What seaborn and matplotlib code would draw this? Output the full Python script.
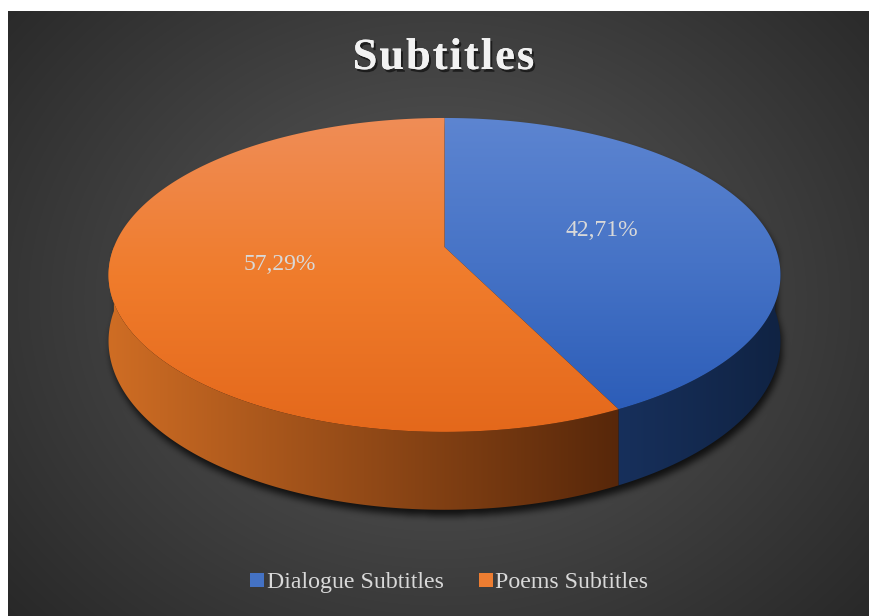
import numpy as np
import matplotlib
matplotlib.use("Agg")
import matplotlib.pyplot as plt
import seaborn as sns
from matplotlib.path import Path
from matplotlib.patches import Polygon, Rectangle
from matplotlib.lines import Line2D
import matplotlib.patheffects as pe

# ---- data ----
categories = ["Dialogue Subtitles", "Poems Subtitles"]
shares = [42.71, 57.29]
value_labels = ["42,71%", "57,29%"]
chart_title = "Subtitles"

# ---- styling ----
# lid shading stops (far edge -> near edge) for each slice
top_colors = [["#5D85D1", "#4673C6", "#2C5DB8"], ["#EF8D57", "#F07C2C", "#E4681B"]]
# wall shading (left -> right)
side_colors = [["#17305C", "#102343"], ["#CF6D24", "#57270A"]]
legend_colors = ["#4472C4", "#ED7D31"]

W, HP = 870, 616
sns.set_theme(style="white")
plt.rcParams["font.family"] = ["Liberation Serif", "DejaVu Serif"]

fig = plt.figure(figsize=(W / 100, HP / 100), dpi=100, facecolor="#2E2E2E")
ax = fig.add_axes([0, 0, 1, 1])
ax.set_xlim(0, W)
ax.set_ylim(HP, 0)
ax.axis("off")

# ---- radial backdrop ----
x0, y0 = 0, 0
yy, xx = np.mgrid[0:HP, 0:W] + 0.5
d = np.sqrt(((xx - 440) / 600) ** 2 + ((yy - 300) / 500) ** 2)
d = np.clip(d, 0, 1)
v = (92 - 54 * d) / 255.0
bg = np.dstack([v, v, v])
ax.imshow(bg, extent=[0, W, HP, 0], aspect="auto", zorder=0, interpolation="nearest")
# white page margin above and left of the dark panel
ax.add_patch(Rectangle((-5, -5), W + 10, 16, facecolor="white", edgecolor="none", zorder=10))
ax.add_patch(Rectangle((-5, -5), 13, HP + 10, facecolor="white", edgecolor="none", zorder=10))

# ---- perspective disc projection ----
CX, CY = 444.5, 247.0
A, B, K, DEPTH = 152.0, 330.6, 0.178, 64.0


def proj(theta_deg, depth=0.0, r=1.0):
    t = np.radians(theta_deg)
    x = r * np.cos(t)
    z = -r * np.sin(t)
    den = 1 - K * z
    return CX + B * x / den, CY + (A * z + DEPTH * depth) / den


def arc(t1, t2, depth=0.0, n=200):
    th = np.linspace(t1, t2, n)
    X, Y = proj(th, depth)
    return np.column_stack([X, Y])


def gradient_fill(pts, stops, horizontal=False, z=2):
    poly = Polygon(pts, closed=True, facecolor="none", edgecolor="none")
    ax.add_patch(poly)
    xmin, ymin = pts.min(axis=0) - 1
    xmax, ymax = pts.max(axis=0) + 1
    cols = np.array([matplotlib.colors.to_rgb(c) for c in stops])
    pos = np.linspace(0, 1, len(stops))
    s = np.linspace(0, 1, 256)
    g = np.column_stack([np.interp(s, pos, cols[:, k]) for k in range(3)])
    img = g[None, :, :] if horizontal else g[:, None, :]
    im = ax.imshow(img, extent=[xmin, xmax, ymax, ymin], aspect="auto",
                   zorder=z, interpolation="bilinear")
    im.set_clip_path(poly)


# slice angles: start at 12 o'clock, run clockwise
bounds = 90 - 360 * np.concatenate([[0], np.cumsum(shares)]) / np.sum(shares)

# ---- soft drop shadow under the disc ----
sil = np.vstack([arc(0, 180, 0), arc(180, 360, 1)])
mask = Path(sil + np.array([2, 6])).contains_points(
    np.column_stack([xx.ravel(), yy.ravel()])).reshape(HP, W).astype(float)


def box_blur(a, r):
    for axis in (0, 1):
        c = np.cumsum(np.pad(a, [(r + 1, r) if i == axis else (0, 0) for i in range(2)], mode="edge"), axis=axis)
        if axis == 0:
            a = (c[2 * r + 1:] - c[:-2 * r - 1]) / (2 * r + 1)
        else:
            a = (c[:, 2 * r + 1:] - c[:, :-2 * r - 1]) / (2 * r + 1)
    return a


for _ in range(3):
    mask = box_blur(mask, 3)
bg_shaded = bg * (1 - 0.75 * mask[..., None])
ax.imshow(bg_shaded, extent=[0, W, HP, 0], aspect="auto", zorder=1, interpolation="nearest")

# ---- side walls (front half only) ----
for i in range(len(shares)):
    hi, lo = bounds[i], bounds[i + 1]
    a1, a2 = max(lo, -180), min(hi, 0)
    if a1 >= a2:
        continue
    pts = np.vstack([arc(a1, a2, 0), arc(a2, a1, 1)])
    gradient_fill(pts, side_colors[i], horizontal=True, z=2)

# ---- lids ----
for i in range(len(shares)):
    hi, lo = bounds[i], bounds[i + 1]
    pts = np.vstack([[proj(0, 0, 0)], arc(hi, lo, 0)])
    gradient_fill(pts, top_colors[i], horizontal=False, z=3)

# ---- value labels ----
for i, lab in enumerate(value_labels):
    mid = (bounds[i] + bounds[i + 1]) / 2
    lx, ly = proj(mid, 0, 0.5)
    ax.text(lx, ly, lab, fontsize=17, color="#D9D9D9", ha="center", va="center", zorder=5)

# ---- title, letter-spaced ----
title_fx = [pe.withSimplePatchShadow(offset=(1.5, -2), shadow_rgbFace="black", alpha=0.55), pe.Normal()]
title_kw = dict(fontsize=32, fontweight="bold", color="#F2F2F2", va="center", ha="left")
renderer = fig.canvas.get_renderer()
widths = []
for ch in chart_title:
    t = ax.text(0, 0, ch, **title_kw)
    widths.append(t.get_window_extent(renderer).width)
    t.remove()
spacing = 2.0
total = sum(widths) + spacing * (len(chart_title) - 1)
cx_title = 443.5 - total / 2
for ch, w in zip(chart_title, widths):
    ax.text(cx_title, 58, ch, path_effects=title_fx, zorder=6, **title_kw)
    cx_title += w + spacing

# ---- legend ----
handles = [Line2D([], [], marker="s", linestyle="", markersize=9.5, markerfacecolor=c,
                  markeredgewidth=0) for c in legend_colors]
leg = fig.legend(handles, categories, loc="center", bbox_to_anchor=(448.5 / W, 1 - 582 / HP),
                 ncol=2, frameon=False, fontsize=17.2, handletextpad=0.05, columnspacing=1.4,
                 handlelength=0.7, labelcolor="#D9D9D9")

fig.savefig("out.png", dpi=100, facecolor=fig.get_facecolor())
